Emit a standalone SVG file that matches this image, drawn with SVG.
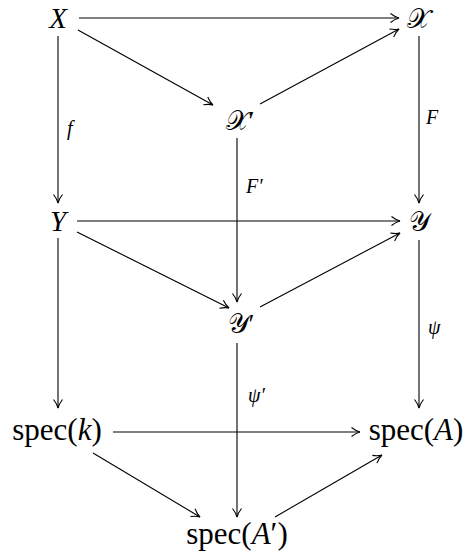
<svg xmlns="http://www.w3.org/2000/svg" width="465" height="558" viewBox="0 0 465 558">
<style>
.t{font-family:"Liberation Serif","DejaVu Serif",serif;font-size:29px;fill:#000;text-anchor:middle}
.sp{font-size:31px}
.i{font-style:italic}
.s{font-family:"Liberation Serif","DejaVu Serif",serif;font-size:27px;fill:#000;text-anchor:middle}
.l{font-family:"Liberation Serif","DejaVu Serif",serif;font-size:20px;font-style:italic;fill:#000}
.e{stroke:#000;stroke-width:1.1;fill:none;marker-end:url(#a)}
</style>
<defs>
<marker id="a" markerWidth="12" markerHeight="12" refX="10" refY="6" orient="auto" markerUnits="userSpaceOnUse">
<path d="M1.5,1.5 Q6,5 10,6 Q6,7 1.5,10.5" fill="none" stroke="#000" stroke-width="1.1"/>
</marker>
</defs>
<g id="edges">
<line class="e" x1="79" y1="18" x2="399" y2="18"/>
<line class="e" x1="78" y1="30" x2="213" y2="105"/>
<line class="e" x1="260" y1="104" x2="399" y2="29"/>
<line class="e" x1="58" y1="36" x2="58" y2="203"/>
<line class="e" x1="419" y1="36" x2="419" y2="203"/>
<line class="e" x1="237" y1="138" x2="237" y2="302"/>
<line class="e" x1="77" y1="221" x2="400" y2="221"/>
<line class="e" x1="77" y1="232" x2="229" y2="308"/>
<line class="e" x1="260" y1="307" x2="400" y2="233"/>
<line class="e" x1="58" y1="238" x2="58" y2="408"/>
<line class="e" x1="419" y1="240" x2="419" y2="408"/>
<line class="e" x1="237" y1="343" x2="237" y2="517"/>
<line class="e" x1="113" y1="432" x2="360" y2="432"/>
<line class="e" x1="93" y1="453" x2="200" y2="517"/>
<line class="e" x1="275" y1="517" x2="382" y2="455"/>
<text class="l" x="67" y="135">f</text>
<text class="l" x="426" y="124">F</text>
<text class="l" x="246" y="193">F′</text>
<text class="l" x="428" y="334">ψ</text>
<text class="l" x="248" y="402">ψ′</text>
</g>
<g id="X"><text class="t i" x="58" y="28">X</text></g>
<g id="Xc"><text class="s" x="418" y="28">𝒳</text></g>
<g id="Xp"><text class="s" x="240" y="130">𝒳′</text></g>
<g id="Y"><text class="t i" x="58" y="231">Y</text></g>
<g id="Yc"><text class="s" x="419" y="231">𝒴</text></g>
<g id="Yp"><text class="s" x="241" y="333">𝒴′</text></g>
<g id="speck"><text class="t sp" x="57" y="440">spec(<tspan class="i">k</tspan>)</text></g>
<g id="specA"><text class="t sp" x="416" y="440">spec(<tspan class="i">A</tspan>)</text></g>
<g id="specAp"><text class="t sp" x="237" y="544">spec(<tspan class="i">A</tspan>′)</text></g>
</svg>
